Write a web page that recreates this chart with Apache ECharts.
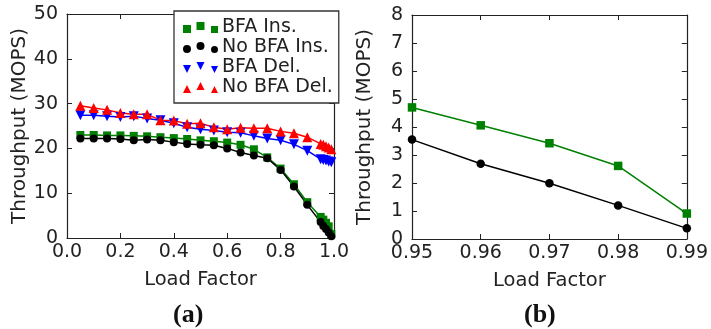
<!DOCTYPE html>
<html><head><meta charset="utf-8">
<script src="https://cdn.jsdelivr.net/npm/echarts@6/dist/echarts.min.js"></script>
<style>html,body{margin:0;padding:0;background:#fff}#c{width:711px;height:329px}</style>
</head><body><div id="c"></div>
<script>
// ---- data ----
const loadA = [0.05,0.10,0.15,0.20,0.25,0.30,0.35,0.40,0.45,0.50,0.55,0.60,0.65,0.70,0.75,0.80,0.85,0.90,0.95,0.96,0.97,0.98,0.99];
const bfaIns   = [23.0,23.0,22.9,22.9,22.8,22.7,22.5,22.3,22.1,21.8,21.6,21.3,20.8,19.8,18.0,15.5,12.0,8.0,4.7,4.1,3.4,2.6,0.9];
const noBfaIns = [22.2,22.2,22.2,22.1,21.8,22.0,21.8,21.4,21.0,20.8,20.7,20.0,19.1,18.4,17.8,15.2,11.5,7.4,3.55,2.7,2.0,1.2,0.4];
const bfaDel   = [27.4,27.4,27.2,27.0,27.2,26.7,26.3,25.6,24.7,24.3,24.0,23.6,23.5,22.8,22.2,21.8,20.9,19.5,17.6,17.4,17.3,17.1,16.9];
const noBfaDel = [29.5,29.0,28.6,27.9,27.6,27.6,26.3,26.2,25.5,25.6,24.7,24.3,24.6,24.5,24.5,23.8,23.4,22.5,21.0,20.8,20.5,20.2,19.8];
const loadB = [0.95,0.96,0.97,0.98,0.99];
const bfaInsB   = [4.70,4.06,3.42,2.61,0.91];
const noBfaInsB = [3.55,2.69,1.99,1.20,0.38];
const seriesNames = ['BFA Ins.','No BFA Ins.','BFA Del.','No BFA Del.'];
const xTicksA = [0,0.2,0.4,0.6,0.8,1.0];
const yTicksA = [0,10,20,30,40,50];
const xTicksB = [0.95,0.96,0.97,0.98,0.99];
const yTicksB = [0,1,2,3,4,5,6,7,8];

const pair = (xs, ys) => xs.map((x,i)=>[x, ys[i]]);
const FONT = 'DejaVu Sans';
const AX = '#222';

function xAx(gi, min, max, step, dec, show){
  return {
    type:'value', gridIndex:gi, min:min, max:max, interval:step,
    position: show ? 'bottom' : 'top',
    name: show ? 'Load Factor' : '', nameLocation:'middle', nameGap:32,
    nameTextStyle:{fontFamily:FONT,fontSize:19.5,color:'#222'},
    axisLine:{show:true,onZero:false,lineStyle:{color:AX,width:1.2}},
    axisTick:{show:true,inside:true,length:5,lineStyle:{color:AX}},
    axisLabel:{show:show,fontFamily:FONT,fontSize:19,color:'#222',margin:5,
      formatter:v=>Number(v).toFixed(dec)},
    splitLine:{show:false}
  };
}
function yAx(gi, min, max, step, show){
  return {
    type:'value', gridIndex:gi, min:min, max:max, interval:step,
    position: show ? 'left' : 'right',
    name: show ? 'Throughput (MOPS)' : '', nameLocation:'middle', nameGap:37, nameRotate:90,
    nameTextStyle:{fontFamily:FONT,fontSize:20,color:'#222'},
    axisLine:{show:true,onZero:false,lineStyle:{color:AX,width:1.2}},
    axisTick:{show:true,inside:true,length:5,lineStyle:{color:AX}},
    axisLabel:{show:show,fontFamily:FONT,fontSize:19,color:'#222',margin:9},
    splitLine:{show:false}
  };
}
function ser(name, xi, yi, data, color, symbol, size, rot){
  return {
    name:name, type:'line', xAxisIndex:xi, yAxisIndex:yi, data:data,
    symbol:symbol, symbolSize:size, symbolRotate:rot||0, showSymbol:true,
    lineStyle:{color:color,width:1.5}, itemStyle:{color:color,borderWidth:0},
    color:color, animation:false, emphasis:{disabled:true}
  };
}

// legend icons: three markers each (middle one raised, as in reference)
const icSq  = 'path://M0,3h8v8h-8z M13.5,0h8v8h-8z M28,4h7v7h-7z';
const icCi  = 'path://M0,7a4,4 0 1,0 8,0a4,4 0 1,0 -8,0z M13.5,4a4,4 0 1,0 8,0a4,4 0 1,0 -8,0z M28,7.5a3.5,3.5 0 1,0 7,0a3.5,3.5 0 1,0 -7,0z';
const icDn  = 'path://M0,3h8l-4,8z M13.5,0h8l-4,8z M28,4h7l-3.5,7z';
const icUp  = 'path://M0,11h8l-4,-8z M13.5,8h8l-4,-8z M28,11h7l-3.5,-7z';

const chart = echarts.init(document.getElementById('c'), null, {renderer:'canvas'});
chart.setOption({
  animation:false,
  backgroundColor:'#fff',
  textStyle:{fontFamily:FONT},
  grid:[
    {left:67, right:377, top:14, bottom:91},
    {left:412, right:22, top:15, bottom:90}
  ],
  xAxis:[
    xAx(0, 0, 1, 0.2, 1, true),
    xAx(0, 0, 1, 0.2, 1, false),
    xAx(1, 0.95, 0.99, 0.01, 2, true),
    xAx(1, 0.95, 0.99, 0.01, 2, false)
  ],
  yAxis:[
    yAx(0, 0, 50, 10, true),
    yAx(0, 0, 50, 10, false),
    yAx(1, 0, 8, 1, true),
    yAx(1, 0, 8, 1, false)
  ],
  legend:{
    orient:'vertical', left:174, top:11,
    padding:[7,6,6,9], itemGap:1, itemWidth:35, itemHeight:11,
    backgroundColor:'#fff', borderColor:'#333', borderWidth:1.3,
    textStyle:{fontFamily:FONT,fontSize:19,color:'#222',padding:[0,0,0,-1]},
    selectedMode:false,
    data:[
      {name:seriesNames[0], icon:icSq},
      {name:seriesNames[1], icon:icCi},
      {name:seriesNames[2], icon:icDn},
      {name:seriesNames[3], icon:icUp}
    ]
  },
  series:[
    ser(seriesNames[0],0,0,pair(loadA,bfaIns),'#008000','rect',8),
    ser(seriesNames[1],0,0,pair(loadA,noBfaIns),'#000000','circle',8),
    ser(seriesNames[2],0,0,pair(loadA,bfaDel),'#0000ff','triangle',10,180),
    ser(seriesNames[3],0,0,pair(loadA,noBfaDel),'#ff0000','triangle',10),
    ser('BFA Ins. (b)',2,2,pair(loadB,bfaInsB),'#008000','rect',8.5),
    ser('No BFA Ins. (b)',2,2,pair(loadB,noBfaInsB),'#000000','circle',8.5)
  ],
  graphic:[
    {type:'text', left:188-15, top:302, style:{text:'(a)', font:'bold 26px "Liberation Serif"', fill:'#111'}},
    {type:'text', left:540-16, top:302, style:{text:'(b)', font:'bold 26px "Liberation Serif"', fill:'#111'}}
  ]
});
</script>
</body></html>
